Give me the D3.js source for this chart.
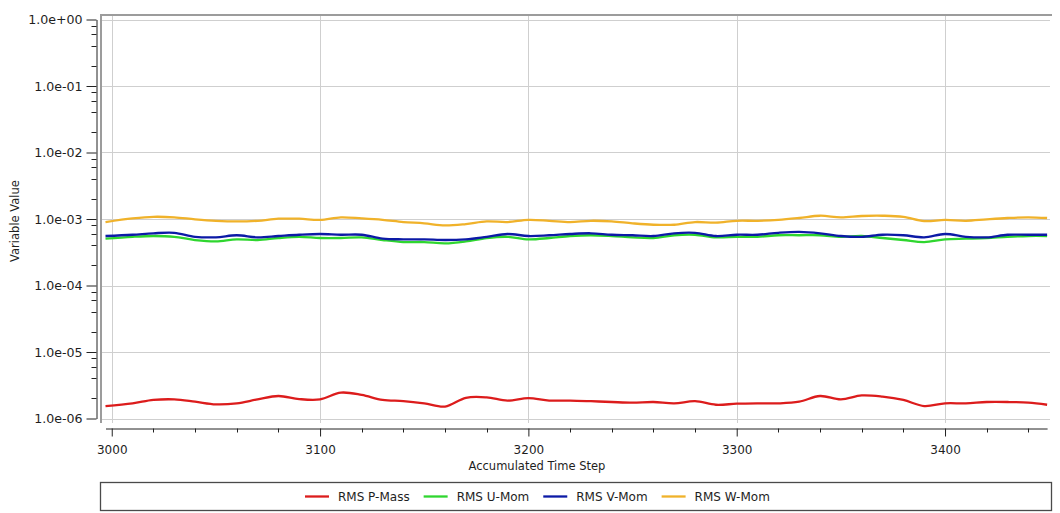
<!DOCTYPE html>
<html>
<head>
<meta charset="utf-8">
<script src="https://cdn.jsdelivr.net/npm/d3@7"></script>
<style>
  html, body { margin: 0; padding: 0; background: #ffffff; }
  svg { display: block; font-family: "DejaVu Sans", Verdana, sans-serif; }
</style>
</head>
<body>
<svg id="chart" width="1060" height="513"></svg>
<script>
// Accumulated time steps at which the monitor values are sampled
const steps = [2997, 3010, 3020, 3030, 3040, 3050, 3060, 3070, 3080, 3090,
  3100, 3110, 3120, 3130, 3140, 3150, 3160, 3170, 3180, 3190,
  3200, 3210, 3220, 3230, 3240, 3250, 3260, 3270, 3280, 3290,
  3300, 3310, 3320, 3330, 3340, 3350, 3360, 3370, 3380, 3390,
  3400, 3410, 3420, 3430, 3440, 3449];

// RMS residuals per equation
const rmsPMass = [1.54e-6, 1.69e-6, 1.90e-6, 1.94e-6, 1.79e-6, 1.63e-6, 1.69e-6, 1.94e-6, 2.18e-6, 1.96e-6,
  1.94e-6, 2.45e-6, 2.26e-6, 1.90e-6, 1.83e-6, 1.69e-6, 1.51e-6, 2.05e-6, 2.08e-6, 1.86e-6,
  2.03e-6, 1.86e-6, 1.86e-6, 1.82e-6, 1.77e-6, 1.73e-6, 1.77e-6, 1.69e-6, 1.82e-6, 1.61e-6,
  1.67e-6, 1.69e-6, 1.69e-6, 1.79e-6, 2.18e-6, 1.94e-6, 2.22e-6, 2.13e-6, 1.90e-6, 1.54e-6,
  1.69e-6, 1.69e-6, 1.77e-6, 1.77e-6, 1.73e-6, 1.61e-6];

const rmsUMom = [5.06e-4, 5.40e-4, 5.55e-4, 5.40e-4, 4.83e-4, 4.60e-4, 4.95e-4, 4.83e-4, 5.18e-4, 5.40e-4,
  5.18e-4, 5.18e-4, 5.30e-4, 4.83e-4, 4.50e-4, 4.50e-4, 4.30e-4, 4.60e-4, 5.18e-4, 5.40e-4,
  4.95e-4, 5.18e-4, 5.55e-4, 5.70e-4, 5.55e-4, 5.30e-4, 5.18e-4, 5.70e-4, 5.80e-4, 5.30e-4,
  5.40e-4, 5.40e-4, 5.70e-4, 5.70e-4, 5.70e-4, 5.40e-4, 5.55e-4, 5.18e-4, 4.83e-4, 4.50e-4,
  4.95e-4, 5.06e-4, 5.18e-4, 5.40e-4, 5.55e-4, 5.55e-4];

const rmsVMom = [5.55e-4, 5.80e-4, 6.10e-4, 6.20e-4, 5.40e-4, 5.30e-4, 5.70e-4, 5.30e-4, 5.55e-4, 5.80e-4,
  5.95e-4, 5.80e-4, 5.80e-4, 5.06e-4, 4.95e-4, 4.95e-4, 4.83e-4, 4.95e-4, 5.40e-4, 5.95e-4,
  5.55e-4, 5.70e-4, 5.95e-4, 6.10e-4, 5.80e-4, 5.70e-4, 5.55e-4, 6.10e-4, 6.20e-4, 5.55e-4,
  5.80e-4, 5.80e-4, 6.20e-4, 6.40e-4, 6.10e-4, 5.55e-4, 5.40e-4, 5.80e-4, 5.70e-4, 5.30e-4,
  5.95e-4, 5.40e-4, 5.30e-4, 5.80e-4, 5.80e-4, 5.80e-4];

const rmsWMom = [9.0e-4, 1.02e-3, 1.08e-3, 1.06e-3, 9.9e-4, 9.4e-4, 9.2e-4, 9.4e-4, 1.01e-3, 1.01e-3,
  9.7e-4, 1.06e-3, 1.02e-3, 9.7e-4, 9.0e-4, 8.6e-4, 8.0e-4, 8.4e-4, 9.2e-4, 9.0e-4,
  9.7e-4, 9.4e-4, 9.0e-4, 9.4e-4, 9.2e-4, 8.6e-4, 8.2e-4, 8.2e-4, 9.0e-4, 8.8e-4,
  9.4e-4, 9.4e-4, 9.7e-4, 1.035e-3, 1.12e-3, 1.06e-3, 1.11e-3, 1.12e-3, 1.08e-3, 9.3e-4,
  9.7e-4, 9.4e-4, 9.9e-4, 1.035e-3, 1.06e-3, 1.035e-3];

const seriesNames = ["RMS P-Mass", "RMS U-Mom", "RMS V-Mom", "RMS W-Mom"];
const seriesColors = ["#dc1c1c", "#2fd62f", "#0c1aa6", "#f0b22a"];
const seriesValues = [rmsPMass, rmsUMom, rmsVMom, rmsWMom];

const xTicks = [3000, 3100, 3200, 3300, 3400];
const xMinorTicks = [3020, 3040, 3060, 3080, 3120, 3140, 3160, 3180, 3220, 3240, 3260, 3280,
  3320, 3340, 3360, 3380, 3420, 3440];
const yTicks = [1e-6, 1e-5, 1e-4, 1e-3, 1e-2, 1e-1, 1e0];
const yMinorMantissas = [2, 4, 6, 8];

const xTitle = "Accumulated Time Step";
const yTitle = "Variable Value";

// Layout
const frame = { left: 100, top: 14, right: 1052, bottom: 423 };
const svg = d3.select("#chart");

const x = d3.scaleLinear().domain([2997, 3449]).range([105.5, 1047.1]);
const y = d3.scaleLog().domain([1e-6, 1]).range([418.5, 19.5]);

const fmtExp = d => {
  const e = Math.round(Math.log10(d));
  const sign = e < 0 ? "-" : "+";
  return "1.0e" + sign + String(Math.abs(e)).padStart(2, "0");
};

// Grid
const grid = svg.append("g").attr("stroke", "#cfcfcf").attr("stroke-width", 1);
yTicks.forEach(t => {
  const yy = Math.round(y(t)) + 0.5;
  grid.append("line").attr("x1", frame.left + 2).attr("x2", frame.right - 2)
    .attr("y1", yy).attr("y2", yy);
});
xTicks.forEach(t => {
  const xx = Math.round(x(t)) + 0.5;
  grid.append("line").attr("x1", xx).attr("x2", xx)
    .attr("y1", frame.top + 2).attr("y2", frame.bottom);
});

// Plot frame (left and top edges)
svg.append("path")
  .attr("d", `M${frame.left + 1},${frame.bottom} V${frame.top + 1} H${frame.right}`)
  .attr("fill", "none").attr("stroke", "#9c9c9c").attr("stroke-width", 2);

// Series lines
const line = d3.line()
  .x((d, i) => x(steps[i]))
  .y(d => y(d))
  .curve(d3.curveCatmullRom.alpha(0.5));

seriesValues.forEach((vals, k) => {
  svg.append("path")
    .datum(vals)
    .attr("d", line)
    .attr("fill", "none")
    .attr("stroke", seriesColors[k])
    .attr("stroke-width", 2.3)
    .attr("stroke-linejoin", "round");
});

// Y axis
const yAxisG = svg.append("g").attr("transform", "translate(96.5,0)");
yAxisG.call(d3.axisLeft(y).tickValues(yTicks).tickFormat(fmtExp).tickSize(10).tickSizeOuter(0).tickPadding(4));
const yMinor = [];
yTicks.slice(0, -1).forEach(t => yMinorMantissas.forEach(m => yMinor.push(t * m)));
yAxisG.selectAll(".minor").data(yMinor).enter().append("line")
  .attr("class", "minor")
  .attr("x1", -5).attr("x2", 0)
  .attr("y1", d => Math.round(y(d)) + 0.5).attr("y2", d => Math.round(y(d)) + 0.5)
  .attr("stroke", "#222");

// X axis
const xAxisG = svg.append("g").attr("transform", "translate(0,428.5)");
xAxisG.call(d3.axisBottom(x).tickValues(xTicks).tickFormat(d3.format("d")).tickSize(8).tickSizeOuter(0).tickPadding(9));
xAxisG.selectAll(".minor").data(xMinorTicks).enter().append("line")
  .attr("class", "minor")
  .attr("x1", d => Math.round(x(d)) + 0.5).attr("x2", d => Math.round(x(d)) + 0.5)
  .attr("y1", 0).attr("y2", 4)
  .attr("stroke", "#222");

[yAxisG, xAxisG].forEach(g => {
  g.selectAll(".domain").attr("stroke", "#222");
  g.selectAll(".tick line").attr("stroke", "#222");
  g.selectAll("text").attr("fill", "#1e1e1e")
    .attr("font-family", "'DejaVu Sans', Verdana, sans-serif");
});
yAxisG.selectAll("text").attr("font-size", 12.6);
xAxisG.selectAll("text").attr("font-size", 12);

// Axis titles
svg.append("text")
  .attr("x", 537).attr("y", 470)
  .attr("text-anchor", "middle")
  .attr("font-size", 11.5).attr("fill", "#1e1e1e")
  .text(xTitle);

svg.append("text")
  .attr("transform", "translate(19,221) rotate(-90)")
  .attr("text-anchor", "middle")
  .attr("font-size", 11.5).attr("fill", "#1e1e1e")
  .text(yTitle);

// Legend
const legendBox = { left: 100, top: 482, right: 1052, bottom: 511 };
svg.append("rect")
  .attr("x", legendBox.left + 0.5).attr("y", legendBox.top + 0.5)
  .attr("width", legendBox.right - legendBox.left - 1)
  .attr("height", legendBox.bottom - legendBox.top - 1)
  .attr("fill", "#ffffff").attr("stroke", "#4a4a4a").attr("stroke-width", 1.3);

const legend = svg.append("g");
let cursor = 305;
const legendY = 496.5;
seriesNames.forEach((name, k) => {
  legend.append("line")
    .attr("x1", cursor).attr("x2", cursor + 24)
    .attr("y1", legendY).attr("y2", legendY)
    .attr("stroke", seriesColors[k]).attr("stroke-width", 2.3);
  const t = legend.append("text")
    .attr("x", cursor + 33).attr("y", legendY + 4.5)
    .attr("font-size", 12).attr("fill", "#1e1e1e")
    .text(name);
  cursor += 33 + t.node().getComputedTextLength() + 14;
});
</script>
</body>
</html>
